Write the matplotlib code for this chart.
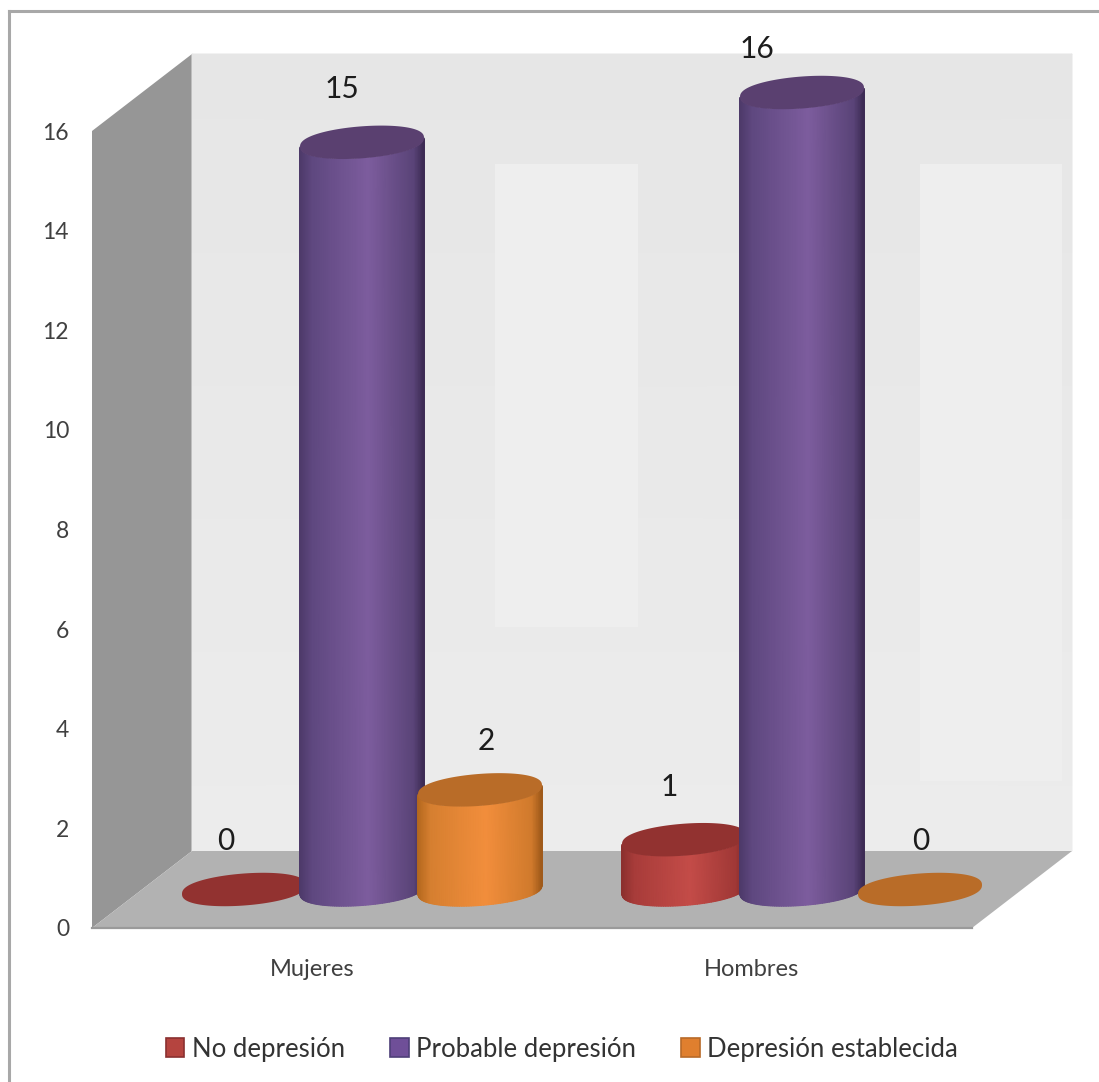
import matplotlib
matplotlib.use("Agg")
import matplotlib.pyplot as plt
import numpy as np
from matplotlib.colors import LinearSegmentedColormap
from matplotlib.lines import Line2D
from matplotlib.patches import Patch, Polygon, Rectangle

categorias = ["Mujeres", "Hombres"]
series = ["No depresión", "Probable depresión", "Depresión establecida"]
no_depresion = [0, 1]
probable_depresion = [15, 16]
depresion_establecida = [2, 0]
valores = [no_depresion, probable_depresion, depresion_establecida]
y_ticks = [0, 2, 4, 6, 8, 10, 12, 14, 16]

W, H = 1099, 1082
plt.rcParams['font.family'] = ['Lato', 'DejaVu Sans']

# colores de cada serie: sombra, lado izquierdo, brillo, lado derecho, sombra
rampas = [["#8c302e", "#a83c3a", "#c44c48", "#a03836", "#7e2a28"],
          ["#4e3a6a", "#5f4880", "#7d5d9e", "#5a4478", "#3d2b54"],
          ["#b5691f", "#d67f30", "#f28e3c", "#d07a2c", "#a05a1a"]]
tapas = ["#923230", "#5a4070", "#b96c28"]
leyenda = ["#b5443f", "#6f4f98", "#e07f2e"]
bordes = ["#8a3030", "#4e3f78", "#b86a28"]

# escala fija: 440 px por categoria, 49.8 px por unidad
esc_y = 797 / 16
fig = plt.figure(figsize=(W / 100, H / 100), dpi=100, facecolor="white")
ax = fig.add_axes([92 / W, 1 - 928 / H, 880 / W, 797 / H])
ax.patch.set_visible(False)
for s in ax.spines.values():
    s.set_visible(False)
ax.set_xlim(-0.5, 1.5)
ax.set_ylim(0, 16)

prof_x, prof_y = 100 / 440, 77 / esc_y  # desplazamiento del fondo
radio_x, radio_y, sesgo = 62 / 440, 16 / esc_y, 4.5 / esc_y
paso = 118 / 440


def px(x, y):
    return (x - 92) / 440 - 0.5, (928 - y) / esc_y


# el marco solo se ve arriba y a la izquierda
fig.add_artist(Line2D([9 / W, 9 / W], [0, 1 - 11 / H], color="#a8a8a8", lw=2.2, transform=fig.transFigure))
fig.add_artist(Line2D([9 / W, 1], [1 - 11 / H, 1 - 11 / H], color="#a8a8a8", lw=2.2, transform=fig.transFigure))

x0, x1 = ax.get_xlim()
y0, y1 = ax.get_ylim()
# pared izquierda, suelo y pared del fondo
ax.add_patch(Polygon([(x0, y0), (x0, y1), (x0 + prof_x, y1 + prof_y), (x0 + prof_x, y0 + prof_y)],
                     fc="#969696", ec="none", clip_on=False, zorder=1))
fondo_x = np.array([[x0 + prof_x, x1 + prof_x]] * 2)
fondo_y = np.array([[y0 + prof_y] * 2, [y1 + prof_y] * 2])
ax.pcolormesh(fondo_x, fondo_y, np.array([[0.925, 0.925], [0.9, 0.9]]), cmap="gray", vmin=0, vmax=1,
              shading="gouraud", clip_on=False, zorder=1)
ax.add_patch(Polygon([(x0, y0), (x1, y0), (x1 + prof_x, y0 + prof_y), (x0 + prof_x, y0 + prof_y)],
                     fc="#b2b2b2", ec="none", clip_on=False, zorder=1.5))
ax.plot([x0, x1], [y0, y0], color="#9a9a9a", lw=1.6, clip_on=False, zorder=1.6)

# recuadros claros sobre la pared del fondo
for xa, ya, xb, yb in [(495, 164, 638, 627), (920, 164, 1062, 781)]:
    (ax_a, ay_a), (ax_b, ay_b) = px(xa, ya), px(xb, yb)
    ax.add_patch(Rectangle((ax_a, ay_b), ax_b - ax_a, ay_a - ay_b, fc="#eeeeee", ec="none",
                           clip_on=False, zorder=1.2))


def borde(u):
    # elipse con la derecha algo mas alta que la izquierda
    return np.sign(np.sin(u)) * np.abs(np.sin(u)) ** 0.85 * radio_y + sesgo * np.cos(u)


def cilindro(cx, valor, rampa, tapa, z):
    cy = prof_y / 2
    t = np.linspace(0, 2 * np.pi, 200)
    if valor > 0:
        u = np.linspace(np.pi, 2 * np.pi, 80)
        xs = cx + radio_x * np.cos(u)
        base = cy + borde(u)
        X = np.vstack([xs, xs])
        Y = np.vstack([base, base + valor])
        C = np.vstack([(xs - xs.min()) / (xs.max() - xs.min())] * 2)
        cmap = LinearSegmentedColormap.from_list(
            "c", [(0, rampa[0]), (0.1, rampa[1]), (0.55, rampa[2]), (0.92, rampa[3]), (1, rampa[4])])
        ax.pcolormesh(X, Y, C, cmap=cmap, shading="gouraud", clip_on=False, zorder=z)
    tx = cx + radio_x * np.cos(t)
    ty = cy + valor + borde(t)
    ax.fill(tx, ty, color=tapa, lw=0, clip_on=False, zorder=z + 0.1)
    return cx, cy + valor


# desplazamiento de cada etiqueta respecto a la tapa del cilindro
ajustes = [[(-18, 49), (-15, 53)], [(-20, 53), (-45, 44)], [(6, 49), (1, 48)]]

for i, vals in enumerate(valores):
    for j, v in enumerate(vals):
        cx = j + prof_x / 2 + (i - 1) * paso
        tx, ty = cilindro(cx, v, rampas[i], tapas[i], 3 + i)
        ax.annotate(str(v), (tx, ty), xytext=ajustes[i][j], textcoords="offset pixels", ha="center", va="center",
                    fontsize=21.5, color="#1c1c1c", annotation_clip=False, zorder=10)

ax.set_xticks([0, 1], categorias)
ax.set_yticks(y_ticks)
ax.tick_params(axis="x", length=0, pad=22, labelsize=17, labelcolor="#404040")
ax.tick_params(axis="y", length=0, pad=16.5, labelsize=16.5, labelcolor="#404040")

handles = [Patch(fc=leyenda[i], ec=bordes[i], lw=1.2, label=series[i]) for i in range(3)]
fig.legend(handles=handles, ncol=3, frameon=False, fontsize=18.5, labelcolor="#333333",
           loc="center", bbox_to_anchor=(562 / W, 1 - 1049 / H), bbox_transform=fig.transFigure,
           handlelength=0.72, handleheight=0.72, handletextpad=0.3, columnspacing=1.75)

ax.set_xlim(x0, x1)
ax.set_ylim(y0, y1)
fig.savefig("out.png", dpi=100)
